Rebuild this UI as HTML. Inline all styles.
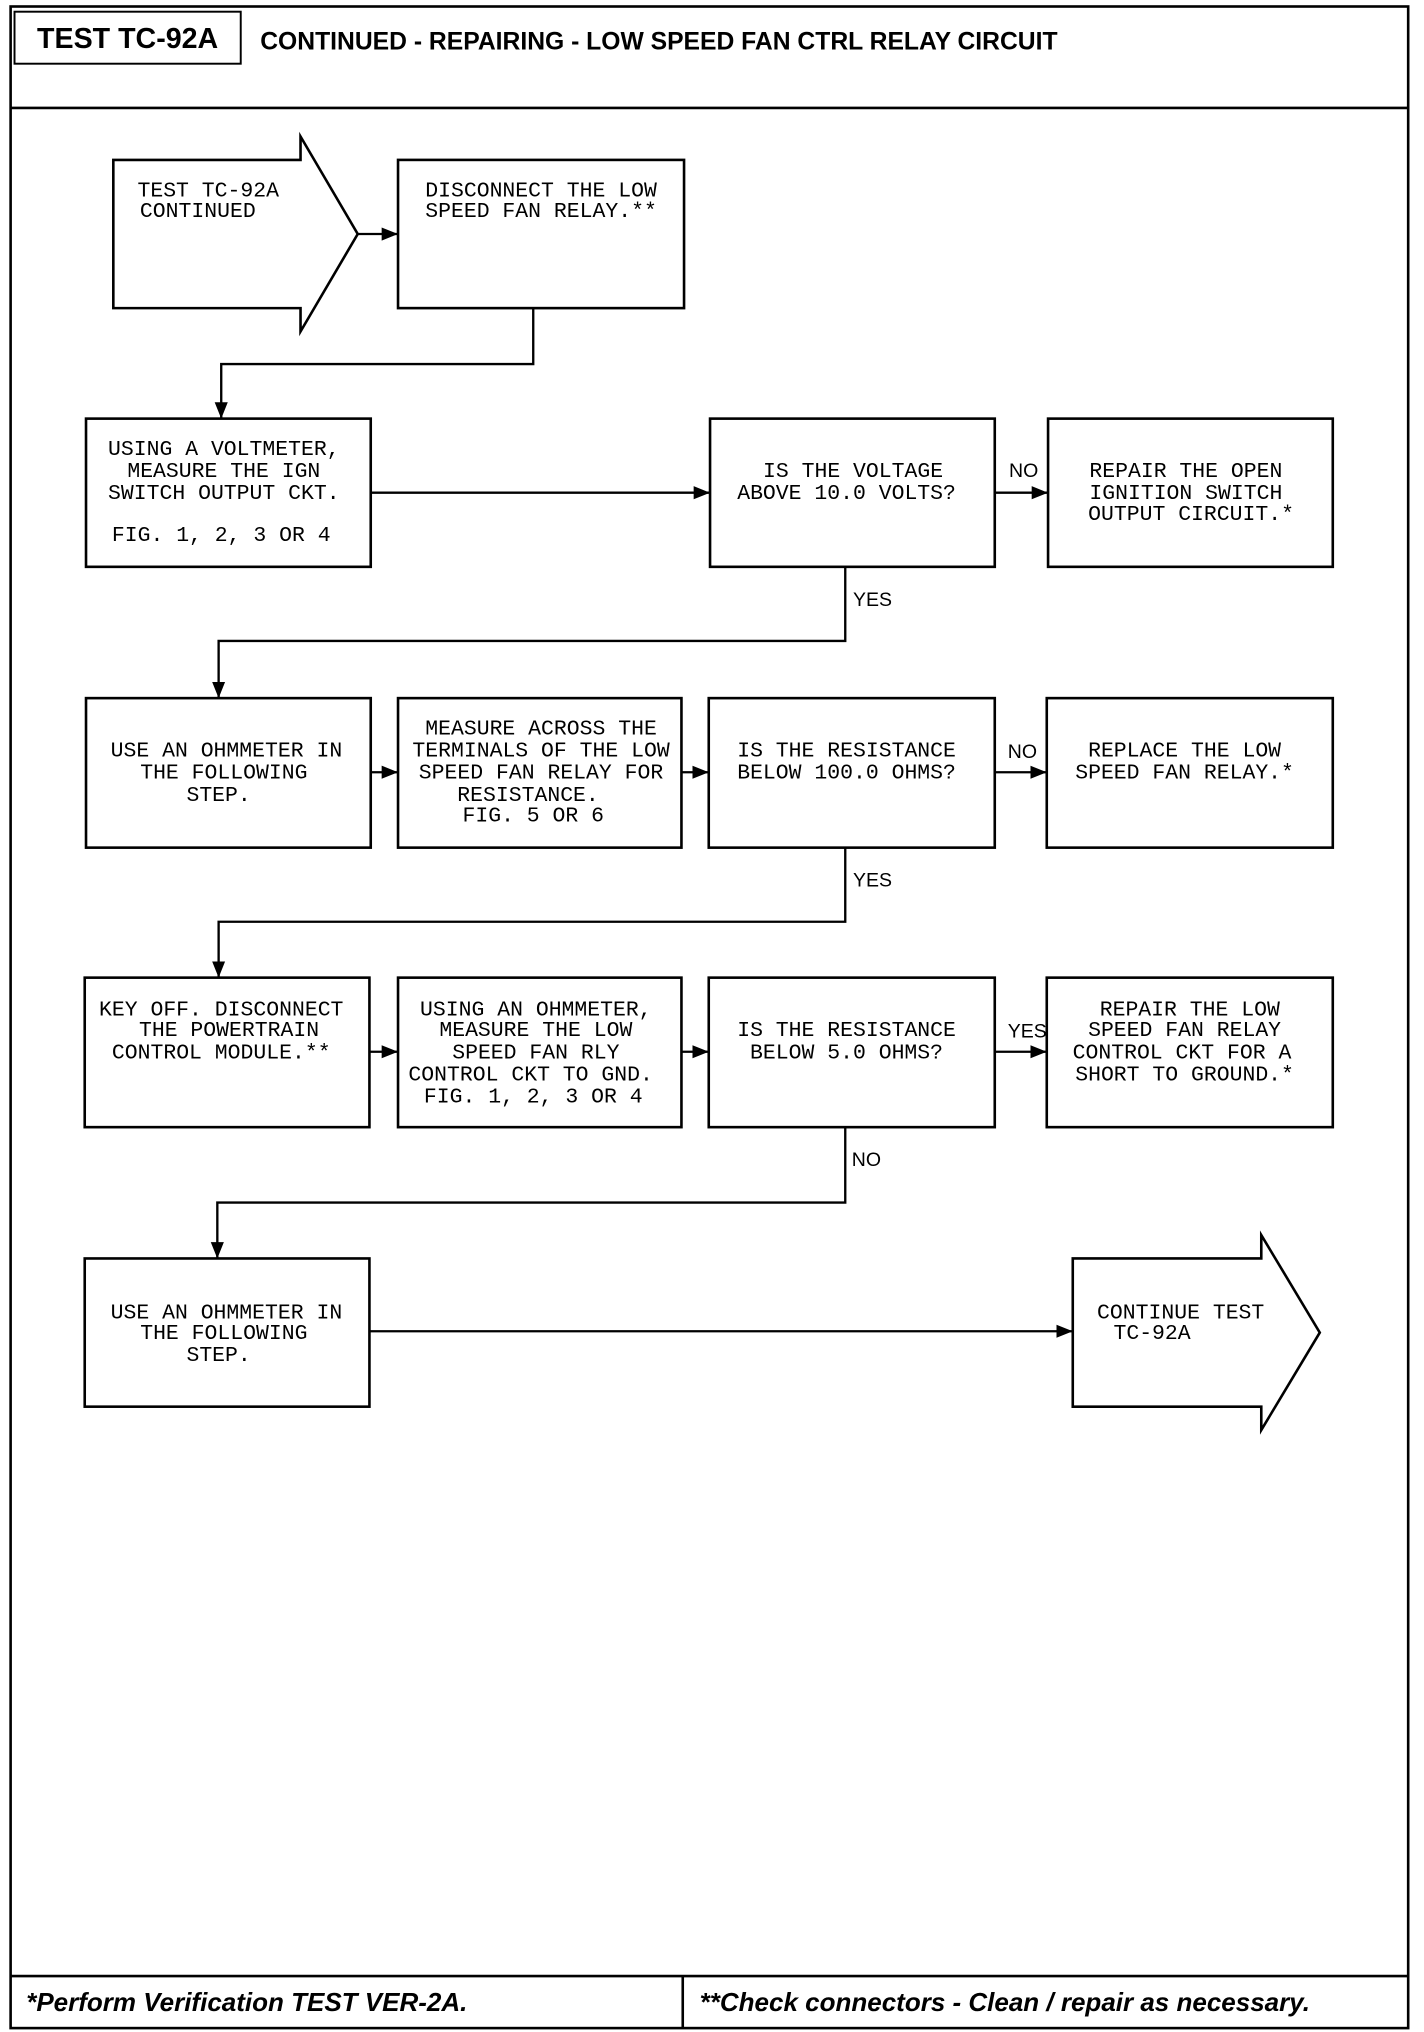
<!DOCTYPE html>
<html><head><meta charset="utf-8"><style>
html,body{margin:0;padding:0;background:#fff;}
svg{display:block;}
.t{font-family:"Liberation Mono",monospace;font-size:16.5px;fill:#000;text-anchor:middle;}
.l{font-family:"Liberation Sans",sans-serif;font-size:15px;fill:#000;}
.b{fill:#fff;stroke:#000;stroke-width:2;}
.c{fill:none;stroke:#000;stroke-width:1.8;}
</style></head><body>
<svg width="1424" height="2032" viewBox="0 0 1095 1563" xmlns="http://www.w3.org/2000/svg">
<defs><marker id="a" viewBox="0 0 10 10" refX="10" refY="5" markerWidth="7" markerHeight="7" orient="auto"><path d="M0,1 L10,5 L0,9 z" fill="#000"/></marker></defs>
<rect x="8" y="5" width="1075" height="1555" fill="none" stroke="#000" stroke-width="2"/>
<line x1="8" y1="83" x2="1083" y2="83" stroke="#000" stroke-width="2"/>
<rect x="11" y="9" width="174" height="40" fill="none" stroke="#000" stroke-width="1.5"/>
<text x="98" y="37" font-family="Liberation Sans,sans-serif" font-weight="bold" font-size="22" text-anchor="middle">TEST TC-92A</text>
<text x="200" y="38" font-family="Liberation Sans,sans-serif" font-weight="bold" font-size="19">CONTINUED - REPAIRING - LOW SPEED FAN CTRL RELAY CIRCUIT</text>
<line x1="8" y1="1520" x2="1083" y2="1520" stroke="#000" stroke-width="2"/>
<line x1="525" y1="1520" x2="525" y2="1560" stroke="#000" stroke-width="2"/>
<text x="20" y="1547" font-family="Liberation Sans,sans-serif" font-weight="bold" font-style="italic" font-size="20">*Perform Verification TEST VER-2A.</text>
<text x="538" y="1547" font-family="Liberation Sans,sans-serif" font-weight="bold" font-style="italic" font-size="20">**Check connectors - Clean / repair as necessary.</text>

<!-- start arrow -->
<path class="b" d="M87,123 H231 V105 L275,180 L231,255 V237 H87 Z"/>
<text class="t" x="160" y="151">TEST TC-92A</text>
<text class="t" x="152" y="167">CONTINUED</text>
<rect class="b" x="306" y="123" width="220" height="114"/>
<text class="t" x="416" y="151">DISCONNECT THE LOW</text>
<text class="t" x="416" y="167">SPEED FAN RELAY.**</text>
<line class="c" x1="275" y1="180" x2="306" y2="180" marker-end="url(#a)"/>
<path class="c" d="M410,237 V280 H170 V322" marker-end="url(#a)"/>

<!-- row 2 -->
<rect class="b" x="66" y="322" width="219" height="114"/>
<text class="t" x="172" y="350">USING A VOLTMETER,</text>
<text class="t" x="172" y="367">MEASURE THE IGN</text>
<text class="t" x="172" y="384">SWITCH OUTPUT CKT.</text>
<text class="t" x="170" y="416">FIG. 1, 2, 3 OR 4</text>
<rect class="b" x="546" y="322" width="219" height="114"/>
<text class="t" x="656" y="367">IS THE VOLTAGE</text>
<text class="t" x="651" y="384">ABOVE 10.0 VOLTS?</text>
<rect class="b" x="806" y="322" width="219" height="114"/>
<text class="t" x="912" y="367">REPAIR THE OPEN</text>
<text class="t" x="912" y="384">IGNITION SWITCH</text>
<text class="t" x="916" y="400">OUTPUT CIRCUIT.*</text>
<line class="c" x1="285" y1="379" x2="546" y2="379" marker-end="url(#a)"/>
<line class="c" x1="765" y1="379" x2="806" y2="379" marker-end="url(#a)"/>
<text class="l" x="776" y="367">NO</text>
<path class="c" d="M650,436 V493 H168 V537" marker-end="url(#a)"/>
<text class="l" x="656" y="466">YES</text>

<!-- row 3 -->
<rect class="b" x="66" y="537" width="219" height="115"/>
<text class="t" x="174" y="582">USE AN OHMMETER IN</text>
<text class="t" x="172" y="599">THE FOLLOWING</text>
<text class="t" x="168" y="616">STEP.</text>
<rect class="b" x="306" y="537" width="218" height="115"/>
<text class="t" x="416" y="565">MEASURE ACROSS THE</text>
<text class="t" x="416" y="582">TERMINALS OF THE LOW</text>
<text class="t" x="416" y="599">SPEED FAN RELAY FOR</text>
<text class="t" x="406" y="616">RESISTANCE.</text>
<text class="t" x="410" y="632">FIG. 5 OR 6</text>
<rect class="b" x="545" y="537" width="220" height="115"/>
<text class="t" x="651" y="582">IS THE RESISTANCE</text>
<text class="t" x="651" y="599">BELOW 100.0 OHMS?</text>
<rect class="b" x="805" y="537" width="220" height="115"/>
<text class="t" x="911" y="582">REPLACE THE LOW</text>
<text class="t" x="911" y="599">SPEED FAN RELAY.*</text>
<line class="c" x1="285" y1="594" x2="306" y2="594" marker-end="url(#a)"/>
<line class="c" x1="524" y1="594" x2="545" y2="594" marker-end="url(#a)"/>
<line class="c" x1="765" y1="594" x2="805" y2="594" marker-end="url(#a)"/>
<text class="l" x="775" y="583">NO</text>
<path class="c" d="M650,652 V709 H168 V752" marker-end="url(#a)"/>
<text class="l" x="656" y="682">YES</text>

<!-- row 4 -->
<rect class="b" x="65" y="752" width="219" height="115"/>
<text class="t" x="170" y="781">KEY OFF. DISCONNECT</text>
<text class="t" x="176" y="797">THE POWERTRAIN</text>
<text class="t" x="170" y="814">CONTROL MODULE.**</text>
<rect class="b" x="306" y="752" width="218" height="115"/>
<text class="t" x="412" y="781">USING AN OHMMETER,</text>
<text class="t" x="412" y="797">MEASURE THE LOW</text>
<text class="t" x="412" y="814">SPEED FAN RLY</text>
<text class="t" x="408" y="831">CONTROL CKT TO GND.</text>
<text class="t" x="410" y="848">FIG. 1, 2, 3 OR 4</text>
<rect class="b" x="545" y="752" width="220" height="115"/>
<text class="t" x="651" y="797">IS THE RESISTANCE</text>
<text class="t" x="651" y="814">BELOW 5.0 OHMS?</text>
<rect class="b" x="805" y="752" width="220" height="115"/>
<text class="t" x="915" y="781">REPAIR THE LOW</text>
<text class="t" x="911" y="797">SPEED FAN RELAY</text>
<text class="t" x="909" y="814">CONTROL CKT FOR A</text>
<text class="t" x="911" y="831">SHORT TO GROUND.*</text>
<line class="c" x1="284" y1="809" x2="306" y2="809" marker-end="url(#a)"/>
<line class="c" x1="524" y1="809" x2="545" y2="809" marker-end="url(#a)"/>
<line class="c" x1="765" y1="809" x2="805" y2="809" marker-end="url(#a)"/>
<text class="l" x="775" y="798">YES</text>
<path class="c" d="M650,867 V925 H167 V968" marker-end="url(#a)"/>
<text class="l" x="655" y="897">NO</text>

<!-- row 5 -->
<rect class="b" x="65" y="968" width="219" height="114"/>
<text class="t" x="174" y="1014">USE AN OHMMETER IN</text>
<text class="t" x="172" y="1030">THE FOLLOWING</text>
<text class="t" x="168" y="1047">STEP.</text>
<path class="b" d="M825,968 H970 V950 L1015,1025 L970,1100 V1082 H825 Z"/>
<text class="t" x="908" y="1014">CONTINUE TEST</text>
<text class="t" x="886" y="1030">TC-92A</text>
<line class="c" x1="284" y1="1024" x2="825" y2="1024" marker-end="url(#a)"/>
</svg>
</body></html>
